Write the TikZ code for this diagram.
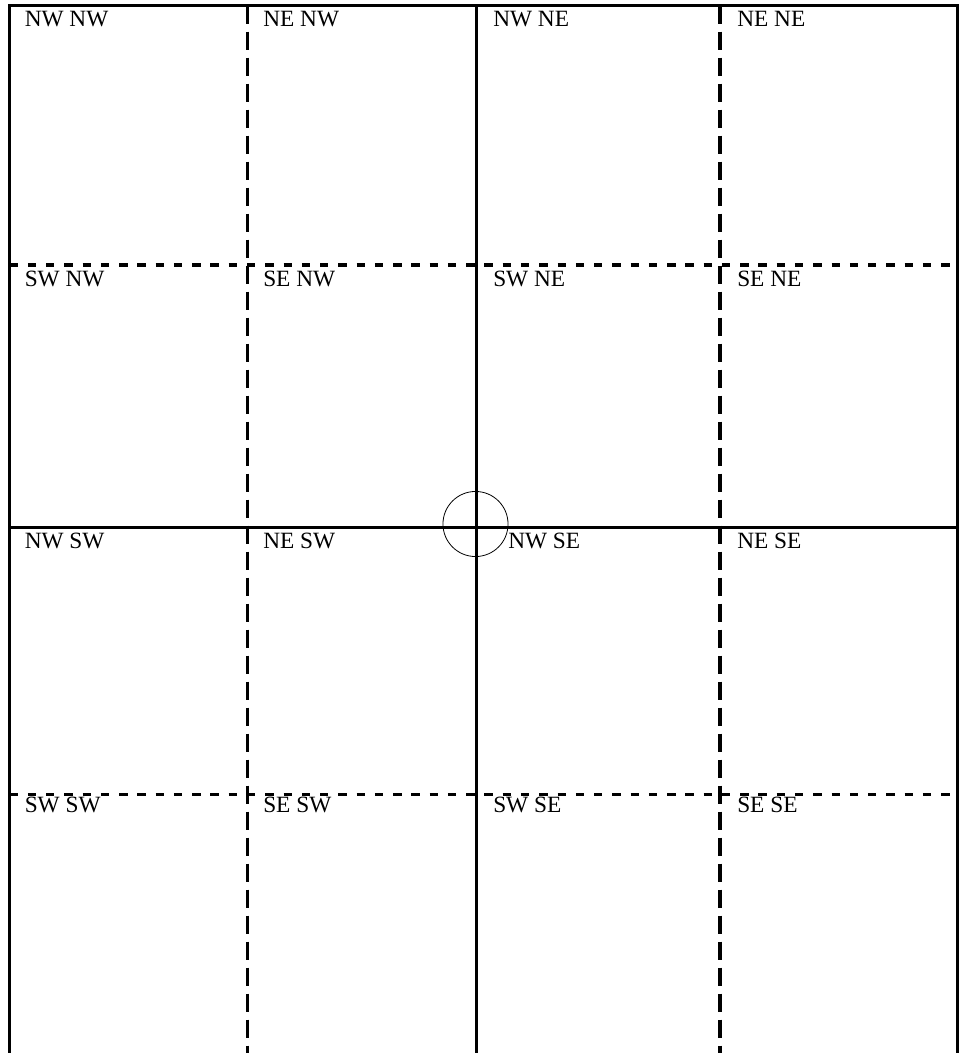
\documentclass[tikz,border=0pt]{standalone}
\usepackage{fontspec}
\setmainfont{Liberation Serif}

\begin{document}
\begin{tikzpicture}[
    x=0.75pt, y=-0.75pt,
    frame/.style={line width=2.5pt},
    splitv/.style={line width=2.3pt, dash pattern=on 13.5pt off 6pt},
    splith/.style={line width=2.3pt, dash pattern=on 6.3pt off 7.4pt},
    quad/.style={anchor=north west, inner sep=0pt,
      font=\fontsize{17.5}{20}\selectfont},
    hub/.style={circle, draw, line width=0.6pt, inner sep=0pt,
      minimum size=48.8pt},
  ]
  \useasboundingbox (0,0) rectangle (964,1053);

  % dashed quarter lines
  \draw[splitv] (247.5,5.5) -- (247.5,1053);
  \draw[splitv] (720,5.5) -- (720,1053);
  \draw[splith] (9.5,265) -- (957.5,265);
  \draw[splith] (9.5,794.3) -- (957.5,794.3);

  % solid frame and halves
  \draw[frame] (9.5,1053) -- (9.5,5.5) -- (957.5,5.5) -- (957.5,1053);
  \draw[frame] (476.5,5.5) -- (476.5,1053);
  \draw[frame] (9.5,527.5) -- (957.5,527.5);

  \node[hub] (mid) at (475.5,524) {};

  % labels, row by row
  \node[quad] (nwnw) at (24.5,10.7)  {NW NW};
  \node[quad] (nenw) at (263,10.7)   {NE NW};
  \node[quad] (nwne) at (493,10.7)   {NW NE};
  \node[quad] (nene) at (737,10.7)   {NE NE};

  \node[quad] (swnw) at (24.5,270.7) {SW NW};
  \node[quad] (senw) at (263,270.7)  {SE NW};
  \node[quad] (swne) at (493,270.7)  {SW NE};
  \node[quad] (sene) at (737,270.7)  {SE NE};

  \node[quad] (nwsw) at (24.5,532.3) {NW SW};
  \node[quad] (nesw) at (263,532.3)  {NE SW};
  \node[quad] (nwse) at (508,532.3)  {NW SE};
  \node[quad] (nese) at (737,532.3)  {NE SE};

  \node[quad] (swsw) at (24.5,796.7) {SW SW};
  \node[quad] (sesw) at (263,796.7)  {SE SW};
  \node[quad] (swse) at (493,796.7)  {SW SE};
  \node[quad] (sese) at (737,796.7)  {SE SE};
\end{tikzpicture}
\end{document}
